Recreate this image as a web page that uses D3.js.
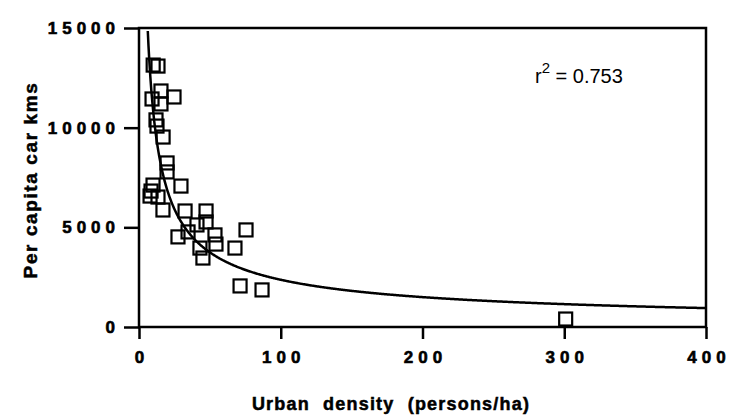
<!DOCTYPE html>
<html>
<head>
<meta charset="utf-8">
<script src="https://cdn.jsdelivr.net/npm/d3@7"></script>
<style>
  body { margin: 0; background: #fff; }
  svg { display: block; }
</style>
</head>
<body>
<div id="chart"></div>
<script>
// urban density (persons/ha) vs per capita car kms
const densityVals = [10, 13.4, 15.5, 24.7, 9.2, 15.5, 12, 12.7, 17, 19.8, 19.8, 9.9, 29.6, 7.8, 8.5, 13.4,
  16.9, 32.5, 47.3, 40.9, 47.3, 27.5, 34.6, 53.6, 54.3, 75.5, 67.7, 43, 45.1, 71.3, 86.8, 301];
const carKmsVals = [13140, 13090, 11840, 11540, 11440, 11190, 10390, 10080, 9530, 8230, 7780, 7120, 7070, 6570, 6820, 6520,
  5870, 5820, 5820, 5120, 5270, 4520, 4770, 4620, 4160, 4870, 3960, 3960, 3460, 2060, 1860, 400];
const xTicks = [0, 100, 200, 300, 400];
const yTicks = [0, 5000, 10000, 15000];
// power fit y = a * x^b
const fitA = 49500, fitB = -0.66;
const r2Text = "0.753";

const width = 731, height = 417;
const svg = d3.select("#chart").append("svg")
  .attr("width", width).attr("height", height);

const x = d3.scaleLinear().domain([0, 400]).range([139, 706]);
const y = d3.scaleLinear().domain([0, 15000]).range([327, 28]);

const font = "'Liberation Sans', Arial, sans-serif";

// x axis
const gx = svg.append("g").attr("transform", `translate(0, ${y(0)})`)
  .call(d3.axisBottom(x).tickValues(xTicks).tickSize(12).tickPadding(12).tickFormat(d3.format("d")));
gx.select(".domain").remove();
gx.selectAll("line").attr("stroke", "#000").attr("stroke-width", 2.5);
gx.selectAll("text")
  .style("font-family", font).style("font-weight", "bold").style("font-size", "17px")
  .style("letter-spacing", "5px").attr("dx", "2.5px").attr("fill", "#000")
  .attr("stroke", "#000").attr("stroke-width", 0.6);

// y axis
const gy = svg.append("g").attr("transform", `translate(${x(0)}, 0)`)
  .call(d3.axisLeft(y).tickValues(yTicks).tickSize(15).tickPadding(4).tickFormat(d3.format("d")));
gy.select(".domain").remove();
gy.selectAll("line").attr("stroke", "#000").attr("stroke-width", 2.5);
gy.selectAll("text")
  .style("font-family", font).style("font-weight", "bold").style("font-size", "17px")
  .style("letter-spacing", "5px").attr("fill", "#000")
  .attr("stroke", "#000").attr("stroke-width", 0.6);

// frame
svg.append("rect")
  .attr("x", x(0)).attr("y", y(15000))
  .attr("width", x(400) - x(0)).attr("height", y(0) - y(15000))
  .attr("fill", "none").attr("stroke", "#000").attr("stroke-width", 2.5);

// fitted curve
const curvePts = d3.range(6.2, 400.5, 0.5).map(d => [d, fitA * Math.pow(d, fitB)])
  .filter(p => p[1] <= 15000);
svg.append("path")
  .datum(curvePts)
  .attr("fill", "none").attr("stroke", "#000").attr("stroke-width", 2.5)
  .attr("d", d3.line().x(d => x(d[0])).y(d => y(d[1])));

// squares
const sq = 13;
svg.append("g").selectAll("rect")
  .data(densityVals.map((d, i) => ({ x: d, y: carKmsVals[i] })))
  .join("rect")
  .attr("x", d => x(d.x) - sq / 2)
  .attr("y", d => y(d.y) - sq / 2)
  .attr("width", sq).attr("height", sq)
  .attr("fill", "none").attr("stroke", "#000").attr("stroke-width", 2.2);

// r^2 label
const r2 = svg.append("text")
  .attr("x", 535).attr("y", 83)
  .style("font-family", font).style("font-size", "20px").attr("fill", "#000");
r2.append("tspan").text("r");
r2.append("tspan").attr("dy", -10).style("font-size", "15px").text("2");
r2.append("tspan").attr("dy", 10).text(" = " + r2Text);

// axis titles
svg.append("text")
  .attr("x", 391).attr("y", 410)
  .attr("text-anchor", "middle")
  .style("font-family", font).style("font-weight", "bold").style("font-size", "18px")
  .style("word-spacing", "7px").style("letter-spacing", "1.2px")
  .attr("stroke", "#000").attr("stroke-width", 0.5)
  .text("Urban density (persons/ha)");

svg.append("text")
  .attr("transform", "translate(37, 180) rotate(-90)")
  .attr("text-anchor", "middle")
  .style("font-family", font).style("font-weight", "bold").style("font-size", "19px")
  .style("letter-spacing", "1.6px")
  .attr("stroke", "#000").attr("stroke-width", 0.5)
  .text("Per capita car kms");
</script>
</body>
</html>
